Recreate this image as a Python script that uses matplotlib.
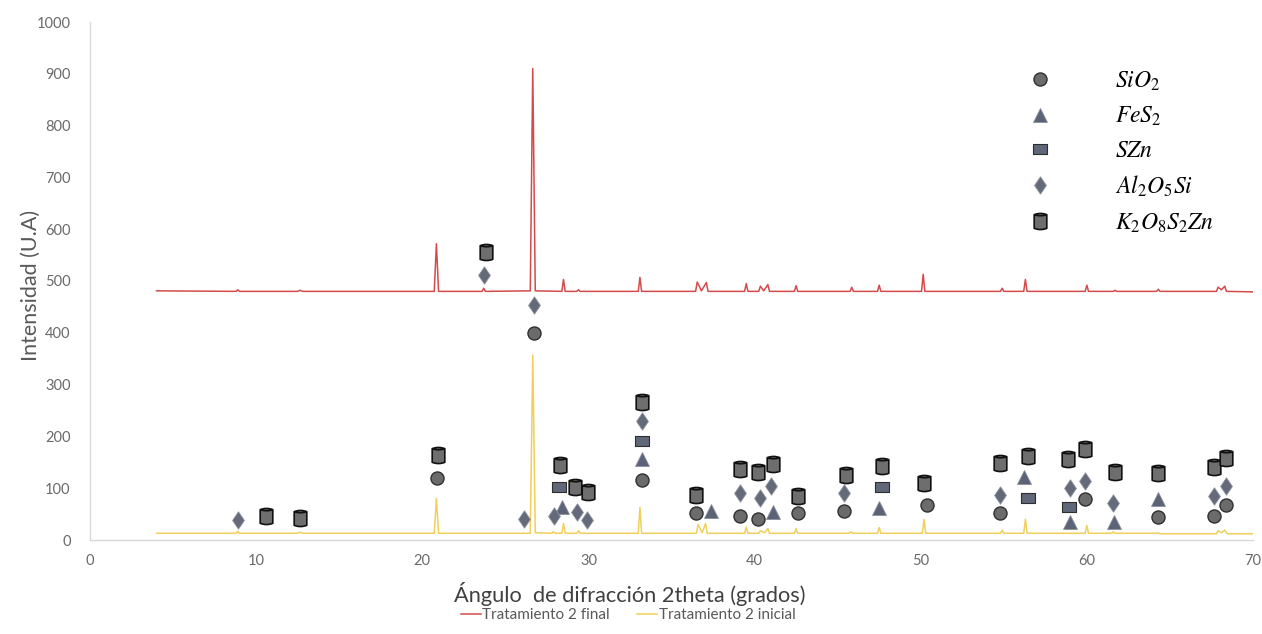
import numpy as np
import matplotlib
matplotlib.use('Agg')
import matplotlib.pyplot as plt
from matplotlib.path import Path
from matplotlib.lines import Line2D

plt.rcParams['font.family'] = ['Lato', 'DejaVu Sans']
plt.rcParams['mathtext.fontset'] = 'stix'

# ---- diffractogram traces (2theta, intensity) ----
final_x = [4.0, 8.8, 8.9, 9.0, 12.5, 12.65, 12.8, 20.72, 20.85, 20.98, 23.6, 23.7, 23.8,
           26.5, 26.65, 26.8, 28.4, 28.5, 28.6, 29.3, 29.4, 29.5, 33.0, 33.1, 33.2,
           36.45, 36.55, 36.8, 37.1, 37.2, 39.4, 39.5, 39.6, 40.25, 40.35, 40.55, 40.8, 40.9,
           42.4, 42.5, 42.6, 45.75, 45.85, 45.95, 47.4, 47.5, 47.6, 50.05, 50.15, 50.25,
           54.8, 54.9, 55.0, 56.2, 56.3, 56.4, 59.9, 60.0, 60.1, 61.6, 61.7, 61.8,
           64.2, 64.3, 64.4, 67.8, 67.9, 68.1, 68.3, 68.4, 70.0]
final_y = [481, 480, 483, 480, 480, 482, 480, 480, 572, 480, 480, 486, 480,
           481, 910, 481, 480, 503, 480, 480, 483, 480, 480, 507, 480,
           480, 498, 481, 497, 480, 480, 495, 480, 480, 490, 481, 493, 480,
           480, 491, 480, 480, 488, 480, 480, 492, 480, 480, 513, 480,
           480, 486, 480, 480, 503, 480, 480, 492, 480, 480, 482, 480,
           480, 484, 480, 480, 488, 483, 490, 480, 479]

init_x = [4.0, 8.8, 8.9, 9.0, 12.5, 12.65, 12.8, 20.72, 20.85, 20.98, 26.5, 26.65, 26.8,
          27.8, 27.9, 28.0, 28.4, 28.5, 28.6, 29.3, 29.4, 29.5, 33.0, 33.1, 33.2,
          36.5, 36.6, 36.85, 37.05, 37.15, 39.4, 39.5, 39.6, 40.25, 40.35, 40.6, 40.8, 40.9,
          42.4, 42.5, 42.6, 45.7, 45.8, 45.9, 47.4, 47.5, 47.6, 50.1, 50.2, 50.3,
          54.8, 54.9, 55.0, 56.2, 56.3, 56.4, 59.9, 60.0, 60.1, 61.5, 61.6, 61.7,
          64.2, 64.3, 64.4, 67.8, 67.9, 68.1, 68.3, 68.45, 70.0]
init_y = [13, 13, 17, 13, 13, 15, 13, 13, 80, 13, 13, 357, 14,
          13, 16, 13, 13, 32, 13, 13, 18, 13, 13, 63, 13,
          13, 30, 14, 32, 13, 13, 25, 13, 13, 18, 14, 22, 13,
          13, 22, 13, 13, 16, 13, 13, 24, 13, 13, 40, 13,
          13, 19, 13, 13, 40, 13, 13, 28, 13, 13, 16, 13,
          13, 14, 12, 12, 18, 14, 19, 12, 12]

# ---- phase markers ----
sio2_x = [20.9, 26.75, 33.2, 36.45, 39.15, 40.2, 42.6, 45.4, 50.35, 54.75, 59.9, 64.3, 67.65, 68.35]
sio2_y = [120, 400, 116, 52, 46, 41, 52, 56, 68, 52, 79, 44, 46, 68]

fes2_x = [28.4, 33.2, 37.35, 41.1, 47.5, 56.2, 59.0, 61.65, 64.3]
fes2_y = [64, 156, 56, 54, 62, 122, 35, 35, 79]

szn_x = [28.2, 33.2, 47.65, 56.45, 58.95]
szn_y = [102, 191, 102, 81, 64]

al2o5si_x = [8.9, 23.7, 26.1, 26.75, 27.9, 29.3, 29.9, 33.2, 39.15, 40.35, 41.0, 45.4,
             54.75, 59.0, 59.9, 61.55, 67.65, 68.35]
al2o5si_y = [38, 511, 40, 454, 46, 54, 38, 230, 91, 81, 104, 91,
             87, 100, 114, 71, 85, 104]

k2o8s2zn_x = [10.6, 12.65, 20.95, 23.85, 28.3, 29.2, 30.0, 33.2, 36.45, 39.15, 40.2, 41.1,
              42.6, 45.5, 47.65, 50.2, 54.75, 56.45, 58.85, 59.9, 61.7, 64.3, 67.65, 68.4]
k2o8s2zn_y = [46, 42, 164, 556, 145, 102, 92, 266, 87, 137, 131, 147,
              85, 125, 143, 110, 149, 162, 156, 176, 131, 129, 141, 158]

# custom marker shapes
cyl = Path([(-0.37, 0.4), (-0.37, -0.4), (0, -0.55), (0.37, -0.4), (0.37, 0.4),
            (0, 0.55), (-0.37, 0.4), (-0.37, 0.4), (-0.37, 0.4), (0, 0.27), (0.37, 0.4)],
           [Path.MOVETO, Path.LINETO, Path.CURVE3, Path.CURVE3, Path.LINETO,
            Path.CURVE3, Path.CURVE3, Path.CLOSEPOLY, Path.MOVETO, Path.CURVE3, Path.CURVE3])
rect = Path([(-0.5, -0.34), (0.5, -0.34), (0.5, 0.34), (-0.5, 0.34), (-0.5, -0.34)],
            [Path.MOVETO, Path.LINETO, Path.LINETO, Path.LINETO, Path.CLOSEPOLY])
diam = Path([(0, 0.5), (0.34, 0), (0, -0.5), (-0.34, 0), (0, 0.5)],
            [Path.MOVETO, Path.LINETO, Path.LINETO, Path.LINETO, Path.CLOSEPOLY])

styles = {
    'SiO2': dict(marker='o', markersize=9.4, markerfacecolor='#6b6b6b', markeredgecolor='#303030', markeredgewidth=1.0),
    'FeS2': dict(marker='^', markersize=9.6, markerfacecolor='#5c6376', markeredgecolor='#8a8f9c', markeredgewidth=0.6),
    'SZn': dict(marker=rect, markersize=9.8, markerfacecolor='#5f6779', markeredgecolor='#2e2e2e', markeredgewidth=0.8),
    'Al2O5Si': dict(marker=diam, markersize=12.5, markerfacecolor='#656a7a', markeredgecolor='#8a8f9c', markeredgewidth=0.6),
    'K2O8S2Zn': dict(marker=cyl, markersize=13.5, markerfacecolor='#6e6e6e', markeredgecolor='#111111', markeredgewidth=1.2),
}

fig = plt.figure(figsize=(12.62, 6.34), dpi=100)
ax = fig.add_axes([90 / 1262, 1 - 540 / 634, 1163 / 1262, 518 / 634])

l1, = ax.plot(final_x, final_y, color='#d54a4a', linewidth=1.1)
l2, = ax.plot(init_x, init_y, color='#f0cf5a', linewidth=1.1)

ax.plot(sio2_x, sio2_y, linestyle='none', clip_on=False, **styles['SiO2'])
ax.plot(fes2_x, fes2_y, linestyle='none', clip_on=False, **styles['FeS2'])
ax.plot(szn_x, szn_y, linestyle='none', clip_on=False, **styles['SZn'])
ax.plot(al2o5si_x, al2o5si_y, linestyle='none', clip_on=False, **styles['Al2O5Si'])
ax.plot(k2o8s2zn_x, k2o8s2zn_y, linestyle='none', clip_on=False, **styles['K2O8S2Zn'])

ax.set_xlim(0, 70)
ax.set_ylim(0, 1000)
ax.set_xticks(range(0, 71, 10))
ax.set_yticks(range(0, 1001, 100))
for s in ['top', 'right']:
    ax.spines[s].set_visible(False)
for s in ['left', 'bottom']:
    ax.spines[s].set_color('#d9d9d9')
    ax.spines[s].set_linewidth(1.0)
ax.tick_params(length=0, labelsize=10.5, labelcolor='#6a6a6a', pad=10)
ax.tick_params(axis='y', pad=14)

fig.text(31 / 1262, 1 - 285 / 634, 'Intensidad (U.A)', rotation=90, ha='center', va='center',
         fontsize=15.5, color='#595959')
fig.text(630 / 1262, 1 - 594 / 634, 'Ángulo  de difracción 2theta (grados)', ha='center', va='center',
         fontsize=15.7, color='#404040')

# series legend under the x label
fig.legend([l1, l2], ['Tratamiento 2 final', 'Tratamiento 2 inicial'], loc='center',
           bbox_to_anchor=(628 / 1262, 1 - 615 / 634), ncol=2, frameon=False, fontsize=11,
           handlelength=1.3, handletextpad=0.1, columnspacing=1.8, labelcolor='#595959')

# phase legend top right
names = ['SiO2', 'FeS2', 'SZn', 'Al2O5Si', 'K2O8S2Zn']
labels = ['$SiO_2$', '$FeS_2$', '$SZn$', '$Al_2O_5Si$', '$K_2O_8S_2Zn$']
handles = [Line2D([], [], linestyle='none', **styles[n]) for n in names]
fig.legend(handles, labels, loc='upper left', bbox_to_anchor=(1001 / 1262, 1 - 48 / 634),
           frameon=False, fontsize=17, handlelength=1.5, handletextpad=2.44, labelspacing=0.52,
           labelcolor='#000000')

fig.savefig('out.png', dpi=100)
